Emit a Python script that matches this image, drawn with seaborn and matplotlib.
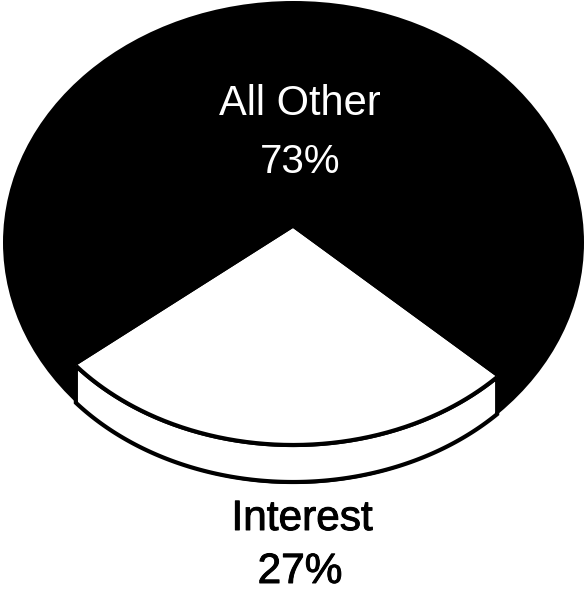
import numpy as np
import matplotlib
matplotlib.use("Agg")
import matplotlib.pyplot as plt
from matplotlib.patches import Ellipse, Polygon
import matplotlib.patheffects as pe
import seaborn as sns

# Shares of the total
categories = ["Interest", "All Other"]
shares = [27, 73]
pct_labels = ["27%", "73%"]

sns.set_theme(style="white")
plt.rcParams["font.family"] = ["Liberation Sans", "DejaVu Sans"]

W, H, DPI = 585, 592, 100
fig = plt.figure(figsize=(W / DPI, H / DPI), dpi=DPI)
fig.patch.set_facecolor("white")
ax = fig.add_axes([0, 0, 1, 1])

# Tilted-pie geometry in pixels (origin top-left)
CX, CY = 293, 228        # centre of the top face
RX, RY = 281, 217        # radii of the top face
DEPTH = 37               # thickness of the pie's side


def to_data(px, py):
    return (px - CX) / RX, -(py - CY) / RY


# Body of the pie (the dark side and the rest of the disc)
bx, by = to_data(293.5, 242.5)
ax.add_patch(Ellipse((bx, by), 581 / RX, 483 / RY, facecolor="black",
                     edgecolor="none", zorder=0.5))

# Top face: one wedge per category
wedges, _ = ax.pie(shares, colors=["white", "black"], startangle=219.4,
                   counterclock=True, radius=1.0, center=(0, 0),
                   wedgeprops=dict(linewidth=0, zorder=3))

# Side band under the Interest wedge
w = wedges[0]
t = np.radians(np.linspace(w.theta1, w.theta2, 300))
xs, ys = np.cos(t), np.sin(t)
drop = DEPTH / RY
verts = np.concatenate([np.column_stack([xs, ys]),
                        np.column_stack([xs[::-1], ys[::-1] - drop])])
ax.add_patch(Polygon(verts, closed=True, facecolor="white", edgecolor="black",
                     linewidth=3, joinstyle="miter", zorder=2))
ax.plot(xs, ys, color="black", linewidth=3, solid_capstyle="butt", zorder=4)

ax.set_aspect("auto")
ax.set_xlim(-CX / RX, (W - CX) / RX)
ax.set_ylim(-(H - CY) / RY, CY / RY)
ax.axis("off")

# Labels
x, y = to_data(300, 115)
ax.text(x, y, categories[1], color="white", fontsize=30, ha="center",
        va="baseline", zorder=5)
x, y = to_data(300, 173)
ax.text(x, y, pct_labels[1], color="white", fontsize=29, ha="center",
        va="baseline", zorder=5)

ink = [pe.withStroke(linewidth=0.7, foreground="black")]
x, y = to_data(302, 530)
ax.text(x, y, categories[0], color="black", fontsize=30.5, ha="center",
        va="baseline", path_effects=ink, zorder=5)
x, y = to_data(300, 583)
ax.text(x, y, pct_labels[0], color="black", fontsize=30.5, ha="center",
        va="baseline", path_effects=ink, zorder=5)

fig.savefig("out.png", dpi=DPI, facecolor="white")
